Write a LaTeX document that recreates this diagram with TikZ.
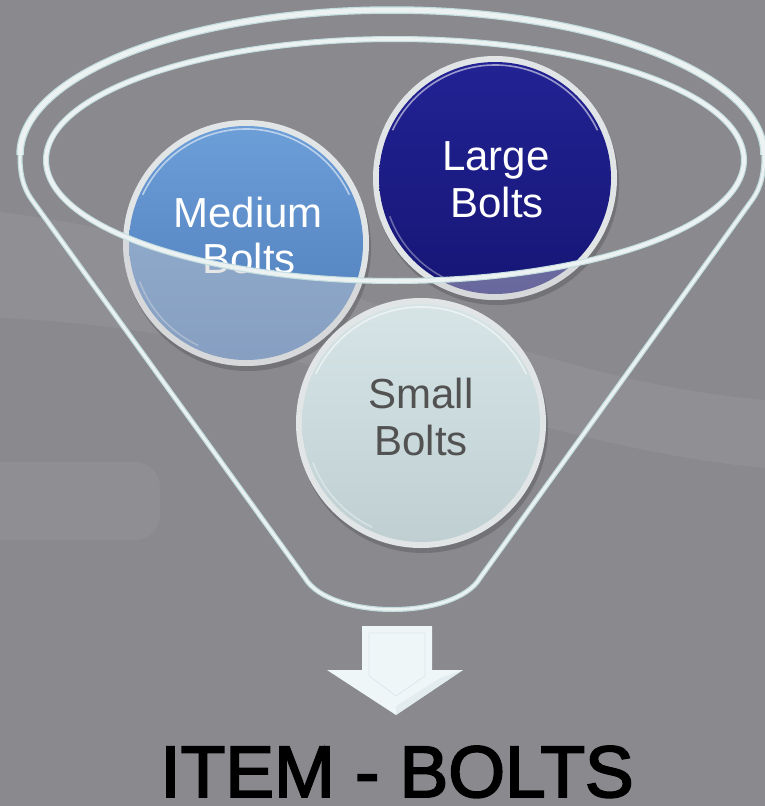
\documentclass[tikz,border=0pt]{standalone}
\usepackage{fontspec}
\setmainfont{Liberation Sans}
\newfontfamily\titlefont[FakeBold=2.6]{Liberation Sans}
\definecolor{bg}{RGB}{138,137,142}
\definecolor{rim}{RGB}{236,242,242}
\definecolor{rimedge}{RGB}{196,222,224}
\definecolor{medtop}{RGB}{108,158,216}
\definecolor{medbot}{RGB}{78,124,186}
\definecolor{lartop}{RGB}{34,34,148}
\definecolor{larbot}{RGB}{22,22,118}
\definecolor{smtop}{RGB}{214,228,230}
\definecolor{smbot}{RGB}{192,208,210}
\definecolor{ringc}{RGB}{226,229,229}
\definecolor{veil}{RGB}{202,202,204}
\definecolor{arrowc}{RGB}{238,246,248}
\definecolor{arrowedge}{RGB}{220,232,234}
\definecolor{smtext}{RGB}{82,82,82}
\tikzset{
  rimline/.style={line width=#1, rim},
  rimback/.style={line width=#1, rimedge},
  ballfont/.style={font=\fontsize{42}{46}\selectfont, anchor=base, inner sep=0pt},
}
\newcommand\myball[5]{%
  \fill[black,opacity=.16] (#1+2,#2+5) circle[radius=#3];
  \fill[ringc] (#1,#2) circle[radius=#3];
  \shade[top color=#4,bottom color=#5] (#1,#2) circle[radius=#3-6];
  \draw[white,opacity=.55,line width=1.6] ([shift={(#1,#2)}]205:#3-9) arc[start angle=205,end angle=335,radius=#3-9];
  \draw[white,opacity=.35,line width=1.6] ([shift={(#1,#2)}]115:#3-10) arc[start angle=115,end angle=160,radius=#3-10];
}
\begin{document}
\begin{tikzpicture}[x=1pt,y=-1pt]
\useasboundingbox (0,0) rectangle (765,806);
\fill[bg] (0,0) rectangle (765,806);
% faint background streaks
\fill[white,opacity=.06] (0,212) .. controls (300,250) and (520,380) .. (765,400) -- (765,468) .. controls (520,445) and (300,330) .. (0,318) -- cycle;
\fill[white,opacity=.05,rounded corners=25] (-30,462) rectangle (160,540);
% funnel outline (back)
\draw[rimback=5] (305,578) -- (32,200) .. controls (22,186) and (20,172) .. (20,155)
   arc[start angle=180,end angle=360,x radius=372,y radius=145]
   .. controls (764,172) and (762,186) .. (752,200) -- (480,578)
   .. controls (455,620) and (330,620) .. (305,578);
\draw[rimline=2.5] (305,578) -- (32,200) .. controls (22,186) and (20,172) .. (20,155)
   arc[start angle=180,end angle=360,x radius=372,y radius=145]
   .. controls (764,172) and (762,186) .. (752,200) -- (480,578)
   .. controls (455,620) and (330,620) .. (305,578);
\draw[rimback=7.5] (20,155) arc[start angle=180,end angle=360,x radius=372,y radius=145];
\draw[rimline=5] (20,155) arc[start angle=180,end angle=360,x radius=372,y radius=145];
% balls
\myball{246}{243}{123}{medtop}{medbot}
\myball{495}{178}{122}{lartop}{larbot}
\myball{421}{423}{125}{smtop}{smbot}
\node[ballfont,text=white] (m1) at (248,227) {Medium};
\node[ballfont,text=white] (m2) at (249,273) {Bolts};
\node[ballfont,text=white] (l1) at (496,170) {Large};
\node[ballfont,text=white] (l2) at (497,217) {Bolts};
\node[ballfont,text=smtext] (s1) at (421,408) {Small};
\node[ballfont,text=smtext] (s2) at (421,455) {Bolts};
% veil below the front rim
\begin{scope}
  \clip (246,243) circle[radius=123];
  \fill[veil,opacity=.46,even odd rule] (0,0) rectangle (765,460) (395,160) ellipse[x radius=349,y radius=121];
\end{scope}
\begin{scope}
  \clip (495,178) circle[radius=122];
  \fill[veil,opacity=.46,even odd rule] (0,0) rectangle (765,460) (395,160) ellipse[x radius=349,y radius=121];
\end{scope}
% inner (front) rim ellipse
\draw[rimback=6] (395,160) ellipse[x radius=349,y radius=121];
\draw[rimline=3.8] (395,160) ellipse[x radius=349,y radius=121];
% arrow
\fill[arrowc] (362,626) -- (432,626) -- (432,670) -- (463,670) -- (396,715) -- (327,670) -- (362,670) -- cycle;
\draw[arrowedge,line width=.8] (369,633) -- (425,633) -- (425,676) -- (396,696) -- (369,676) -- cycle;
\fill[arrowedge,opacity=.6] (396,715) -- (463,670) -- (440,678) -- (396,706) -- cycle;
% title
\node[font=\titlefont\fontsize{73}{80}\selectfont, anchor=base, inner sep=0pt] (title) at (397,797) {ITEM - BOLTS};
\end{tikzpicture}
\end{document}
